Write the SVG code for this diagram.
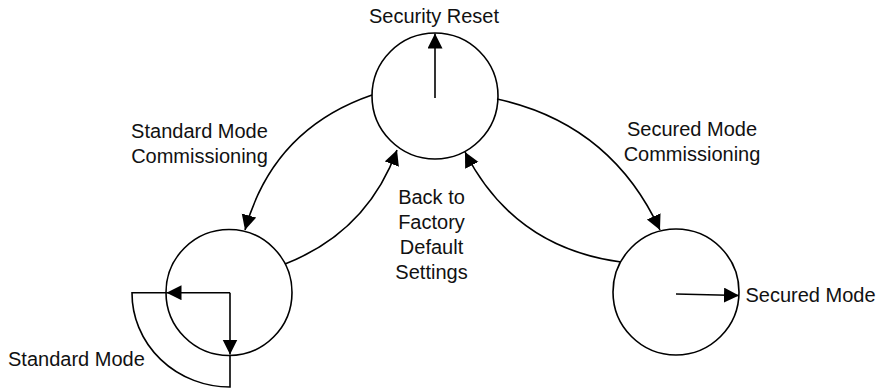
<svg xmlns="http://www.w3.org/2000/svg" width="883" height="388" viewBox="0 0 883 388">
  <style>
    .state { fill: #ffffff; stroke: #000000; stroke-width: 1.6; }
    .edge { fill: none; stroke: #000000; stroke-width: 1.6; marker-end: url(#arrow); }
    .plain { fill: none; stroke: #000000; stroke-width: 1.6; }
    text { font-family: "Liberation Sans", Arial, sans-serif; font-size: 20px; fill: #111111; }
    .mid { text-anchor: middle; }
  </style>
  <defs>
    <marker id="arrow" markerUnits="userSpaceOnUse" markerWidth="16" markerHeight="16" refX="15" refY="7.5" orient="auto">
      <path d="M0,0 L15,7.5 L0,15 z" fill="#000000"/>
    </marker>
  </defs>

  <rect width="883" height="388" fill="#ffffff"/>

  <!-- states -->
  <g id="security-reset">
    <circle class="state" cx="435" cy="96" r="63"/>
    <line class="edge" x1="435" y1="98" x2="435" y2="33.5"/>
    <text class="mid" x="434" y="22.5">Security Reset</text>
  </g>

  <g id="standard-mode">
    <circle class="state" cx="229" cy="292.5" r="63"/>
    <path class="plain" d="M166.5,292.7 L132,292.7 A98,94 0 0 0 230,387 L230,355"/>
    <line class="edge" x1="230" y1="292.7" x2="166.5" y2="292.7"/>
    <line class="edge" x1="230" y1="292.7" x2="230" y2="354.5"/>
    <text x="8" y="366">Standard Mode</text>
  </g>

  <g id="secured-mode">
    <circle class="state" cx="676" cy="292" r="63"/>
    <line class="edge" x1="676" y1="294" x2="739" y2="295.5"/>
    <text x="745.5" y="301.5">Secured Mode</text>
  </g>

  <!-- transitions -->
  <g id="connectors">
    <path class="edge" d="M372,95 Q273,129 245,230"/>
    <path class="edge" d="M285,264 Q367,232 397,150"/>
    <path class="edge" d="M497,99 Q611,124 660,230"/>
    <path class="edge" d="M621,262 Q514,248 465,152"/>
  </g>

  <!-- transition labels -->
  <g id="labels">
    <text class="mid" x="199.5" y="137.5">Standard Mode</text>
    <text class="mid" x="199.5" y="162.5">Commissioning</text>
    <text class="mid" x="692" y="136">Secured Mode</text>
    <text class="mid" x="692" y="161">Commissioning</text>
    <text class="mid" x="431.5" y="203.5">Back to</text>
    <text class="mid" x="431.5" y="228.5">Factory</text>
    <text class="mid" x="431.5" y="253.5">Default</text>
    <text class="mid" x="431.5" y="278.5">Settings</text>
  </g>
</svg>
